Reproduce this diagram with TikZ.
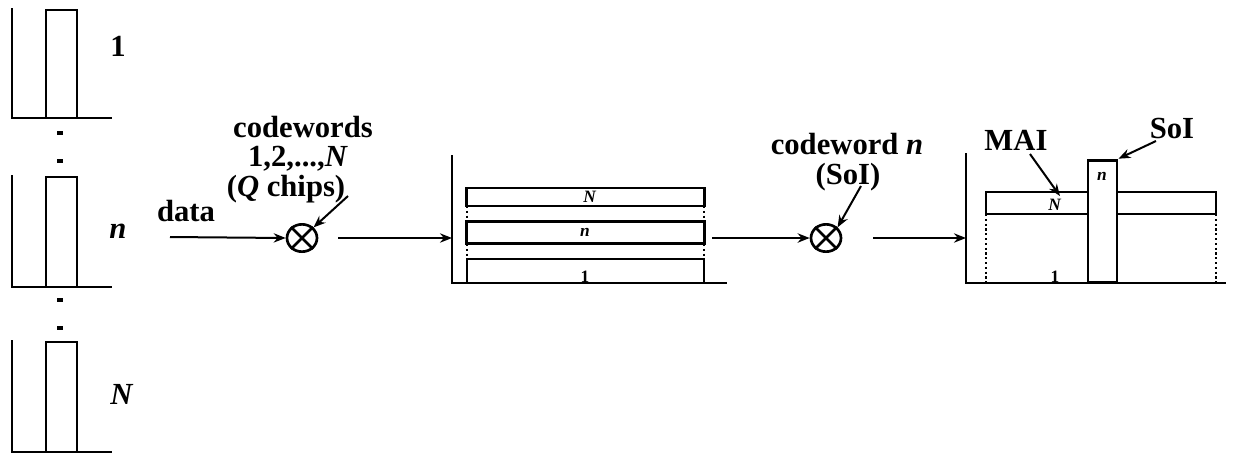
\documentclass[tikz,border=0pt]{standalone}
\usepackage{fontspec}
\setmainfont{Liberation Serif}
\usetikzlibrary{arrows.meta,shapes.geometric}
\tikzset{
  lbl/.style={font=\fontsize{23}{26}\selectfont\bfseries, inner sep=0pt, anchor=base},
  small/.style={font=\fontsize{13}{14}\selectfont\bfseries, inner sep=0pt},
  mult/.style={draw, ellipse, minimum width=22.5pt, minimum height=20.5pt, inner sep=0pt, line width=2pt},
  ax/.style={line width=2.2pt},
  bar/.style={draw, line width=2.2pt},
  dotl/.style={line width=1.6pt, dotted},
  arr/.style={->, line width=1.5pt},
  dot/.style={fill, minimum width=4pt, minimum height=3pt, inner sep=0pt}
}
\begin{document}
\begin{tikzpicture}[x=0.75pt,y=-0.75pt, >={Stealth[length=9pt,width=7pt]}]
\useasboundingbox (0,0) rectangle (1236,455);
% left column pulses
\foreach \t/\b/\nm in {8/118/a,175/287/b,340/452/c}{
  \draw[ax] (12,\t) -- (12,\b) -- (112,\b);
  \draw[bar] (46,\b) -- (46,\t+2) -- (77,\t+2) -- (77,\b);
}
\node[lbl] (l1) at (118,56) {1};
\node[lbl] (ln) at (118,238) {\textit{n}};
\node[lbl] (lN) at (122,404) {\textit{N}};
\foreach \y [count=\i] in {133,161,300,328}{ \node[dot] (d\i) at (60,\y) {}; }
% first multiplier
\node[mult] (m1) at (302,238) {};
\draw[line width=2pt] (m1.45) -- (m1.225) (m1.135) -- (m1.-45);
\node[lbl] (data) at (186,221) {data};
\node[lbl] (cw1) at (303,137) {codewords};
\node[lbl] (cw2) at (298,166) {1,2,...,\textit{N}};
\node[lbl] (cw3) at (286,196) {(\textit{Q} chips)};
\coordinate (din) at (170,237);
\draw[arr] (din) -- (m1.west);
\coordinate (cwt) at (348,196);
\draw[arr] (cwt) -- (m1.north east);
% box 1
\coordinate (b1top) at (452,155);
\coordinate (b1o) at (452,283);
\coordinate (b1r) at (727,283);
\draw[ax] (b1top) -- (b1o) -- (b1r);
\coordinate (a1s) at (338,238);
\draw[arr] (a1s) -- (b1o |- a1s);
\node[bar, minimum width=178pt, minimum height=13.5pt, inner sep=0pt] (bN) at (585.5,197) {};
\node[bar, minimum width=178pt, minimum height=17pt, inner sep=0pt] (bn) at (585.5,232.5) {};
\draw[bar] (467,283) -- (467,259) -- (704,259) -- (704,283);
\node[small] (tN) at (590,197) {\textit{N}};
\node[small] (tn) at (585,232) {\textit{n}};
\node[small, anchor=base] (t1) at (585,282) {1};
\draw[dotl] (467,206) -- (467,221) (467,244) -- (467,259) (704,206) -- (704,221) (704,244) -- (704,259);
% second multiplier
\node[mult] (m2) at (826,238) {};
\draw[line width=2pt] (m2.45) -- (m2.225) (m2.135) -- (m2.-45);
\coordinate (a2s) at (712,238);
\draw[arr] (a2s) -- (m2.west);
\node[lbl] (cw4) at (847,154) {codeword \textit{n}};
\node[lbl] (cw5) at (848,184) {(SoI)};
\coordinate (sot) at (861,186);
\draw[arr] (sot) -- (m2.north east);
% box 2
\coordinate (b2top) at (966,153);
\coordinate (b2o) at (966,283);
\coordinate (b2r) at (1226,283);
\draw[ax] (b2top) -- (b2o) -- (b2r);
\coordinate (a3s) at (873,238);
\draw[arr] (a3s) -- (b2o |- a3s);
\draw[bar] (1088,192) -- (986,192) -- (986,214) -- (1088,214);
\draw[bar] (1117,192) -- (1216,192) -- (1216,214) -- (1117,214);
\node[bar, minimum width=21.75pt, minimum height=92pt, inner sep=0pt] (soi) at (1102.5,221.5) {};
\node[small] (tn2) at (1102,176) {\textit{n}};
\node[small] (tN2) at (1055,205) {\textit{N}};
\node[small, anchor=base] (t12) at (1055,282) {1};
\draw[dotl] (986,214) -- (986,283) (1216,214) -- (1216,283);
\node[lbl] (mai) at (1016,150) {MAI};
\node[lbl] (sol) at (1172,138) {SoI};
\coordinate (mait) at (1030,154);
\coordinate (maih) at (1060,196);
\draw[arr] (mait) -- (maih);
\coordinate (solt) at (1156,141);
\draw[arr] (solt) -- (soi.north east);
\end{tikzpicture}
\end{document}
